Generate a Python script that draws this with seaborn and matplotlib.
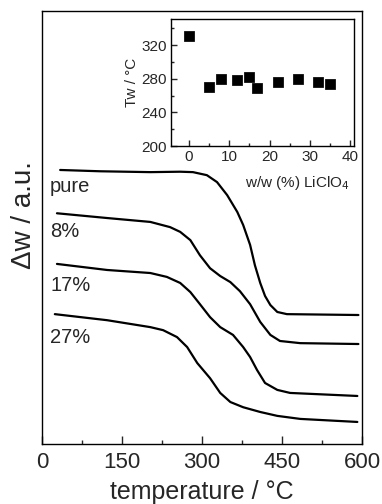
import matplotlib
matplotlib.use("Agg")
import matplotlib.pyplot as plt
import seaborn as sns
import pandas as pd
from matplotlib.ticker import MultipleLocator

# ---- main TGA curves (temperature in °C, weight in arbitrary offset units)
t_pure = [34, 109, 203, 259, 283, 309, 328, 347, 366, 377, 390, 399, 409, 418, 428, 441, 459, 593]
w_pure = [63.3, 63.0, 62.8, 62.9, 62.8, 62.1, 60.5, 57.5, 53.6, 50.6, 46.0, 41.3, 37.2, 34.2, 32.1, 30.5, 30.0, 29.8]

t_8 = [28, 122, 203, 240, 259, 278, 296, 315, 334, 353, 371, 390, 409, 428, 446, 484, 593]
w_8 = [53.3, 52.2, 51.3, 50.1, 49.0, 47.1, 43.6, 40.6, 38.8, 37.4, 35.3, 32.3, 28.2, 25.2, 23.8, 23.3, 23.1]

t_17 = [28, 122, 203, 234, 259, 278, 296, 315, 334, 358, 377, 390, 403, 418, 441, 465, 591]
w_17 = [41.6, 40.2, 39.5, 38.6, 37.2, 35.1, 32.3, 29.3, 27.0, 25.2, 22.4, 20.1, 17.1, 14.1, 12.5, 11.8, 11.1]

t_27 = [24, 122, 203, 227, 253, 272, 291, 315, 334, 353, 377, 409, 441, 484, 591]
w_27 = [30.0, 28.6, 27.0, 26.3, 24.7, 22.4, 18.7, 15.2, 11.8, 9.7, 8.5, 7.4, 6.5, 5.8, 5.1]

curve_names = ["pure", "8%", "17%", "27%"]
label_y = [59.4, 49.0, 36.7, 24.5]

# ---- inset: Tw vs LiClO4 content
conc = [0, 5, 8, 12, 15, 17, 22, 27, 32, 35]
tw = [331, 270, 280, 278, 282, 269, 276, 280, 276, 274]

sns.set_style("ticks")
plt.rcParams["font.family"] = ["Liberation Sans", "DejaVu Sans"]
plt.rcParams["xtick.direction"] = "in"
plt.rcParams["ytick.direction"] = "in"
plt.rcParams["axes.edgecolor"] = "black"
plt.rcParams["axes.linewidth"] = 1.0

frames = []
for name, t, w in zip(curve_names, [t_pure, t_8, t_17, t_27], [w_pure, w_8, w_17, w_27]):
    frames.append(pd.DataFrame({"T": t, "w": w, "sample": name}))
df = pd.concat(frames, ignore_index=True)

fig = plt.figure(figsize=(3.82, 5.04), dpi=100)
ax = fig.add_axes([0.110, 0.119, 0.838, 0.859])
sns.lineplot(data=df, x="T", y="w", hue="sample", units="sample", estimator=None,
             sort=False, palette=["black"] * 4, linewidth=1.6, legend=False, ax=ax)
ax.set_xlim(0, 600)
ax.set_ylim(0, 100)
ax.xaxis.set_major_locator(MultipleLocator(150))
ax.xaxis.set_minor_locator(MultipleLocator(75))
ax.tick_params(axis="x", which="major", length=6, width=1, labelsize=16, pad=6)
ax.tick_params(axis="x", which="minor", length=3, width=1)
ax.set_yticks([])
ax.set_xlabel("temperature / °C", fontsize=18, labelpad=5)
ax.set_ylabel("Δw / a.u.", fontsize=20)
ax.yaxis.set_label_coords(-0.016, 0.528)
for name, y in zip(curve_names, label_y):
    ax.text(15, y, name, fontsize=14.5, ha="left", va="center")

# inset
axi = fig.add_axes([0.4476, 0.7103, 0.4791, 0.2520])
sns.scatterplot(x=conc, y=tw, marker="s", s=45, color="black", edgecolor="black", ax=axi)
axi.set_xlim(-4.5, 41)
axi.set_ylim(200, 351)
axi.xaxis.set_major_locator(MultipleLocator(10))
axi.xaxis.set_minor_locator(MultipleLocator(5))
axi.yaxis.set_major_locator(MultipleLocator(40))
axi.yaxis.set_minor_locator(MultipleLocator(20))
axi.tick_params(which="major", length=4, width=1, labelsize=11, pad=3)
axi.tick_params(which="minor", length=2, width=1)
axi.set_ylabel("Tw / °C", fontsize=11, labelpad=2)
axi.set_xlabel("w/w (%) LiClO$_4$", fontsize=11, labelpad=1)
axi.xaxis.set_label_coords(0.98, -0.22)
axi.xaxis.label.set_ha("right")

fig.savefig("out.png", dpi=100)
